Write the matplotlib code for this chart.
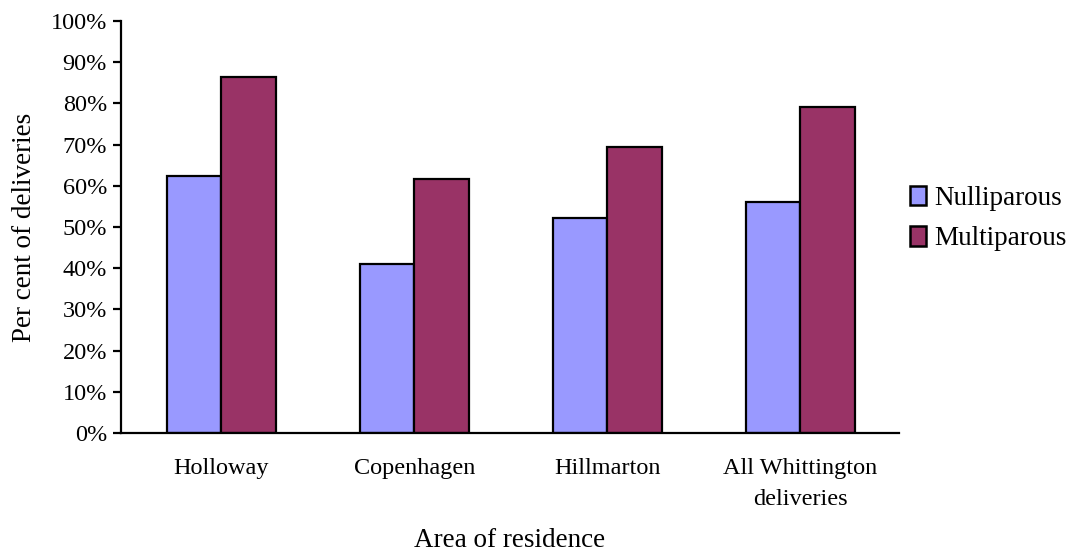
import matplotlib
matplotlib.use("Agg")
import matplotlib.pyplot as plt
import numpy as np
from matplotlib.ticker import PercentFormatter

categories = ["Holloway", "Copenhagen", "Hillmarton", "All Whittington\ndeliveries"]
nulliparous = [62.4, 40.9, 52.1, 56.0]
multiparous = [86.5, 61.7, 69.5, 79.2]
series_names = ["Nulliparous", "Multiparous"]

plt.rcParams['font.family'] = ['Liberation Serif', 'DejaVu Serif']

fig = plt.figure(figsize=(10.69, 5.57), dpi=100)
ax = fig.add_axes([0.1132, 0.2226, 0.8408 - 0.1132, 0.9623 - 0.2226])

x = np.arange(len(categories))
w = 0.283
ax.bar(x - w / 2, nulliparous, w, color="#9999FF", edgecolor="black", linewidth=1.6, label=series_names[0])
ax.bar(x + w / 2, multiparous, w, color="#993366", edgecolor="black", linewidth=1.6, label=series_names[1])

ax.set_xlim(-0.52, len(categories) - 0.49)
ax.set_ylim(0, 100)
ax.set_yticks(np.arange(0, 101, 10))
ax.yaxis.set_major_formatter(PercentFormatter(decimals=0))
ax.set_xticks(x)
ax.set_xticklabels(categories, fontsize=17.5, linespacing=1.65)
ax.tick_params(axis='x', length=0, pad=18)
ax.tick_params(axis='y', length=6, width=1.6, labelsize=17.5, pad=4)

for s in ["top", "right"]:
    ax.spines[s].set_visible(False)
for s in ["left", "bottom"]:
    ax.spines[s].set_linewidth(1.6)

ax.set_ylabel("Per cent of deliveries", fontsize=19.5, labelpad=10)
ax.set_xlabel("Area of residence", fontsize=19.5, labelpad=13)

leg = fig.legend(loc="center left", bbox_to_anchor=(0.828, 0.608), frameon=False,
                 fontsize=19.5, handlelength=0.6, handleheight=0.75, handletextpad=0.3,
                 labelspacing=0.55)
for p in leg.get_patches():
    p.set_linewidth(1.8)

fig.savefig("out.png", dpi=100)
